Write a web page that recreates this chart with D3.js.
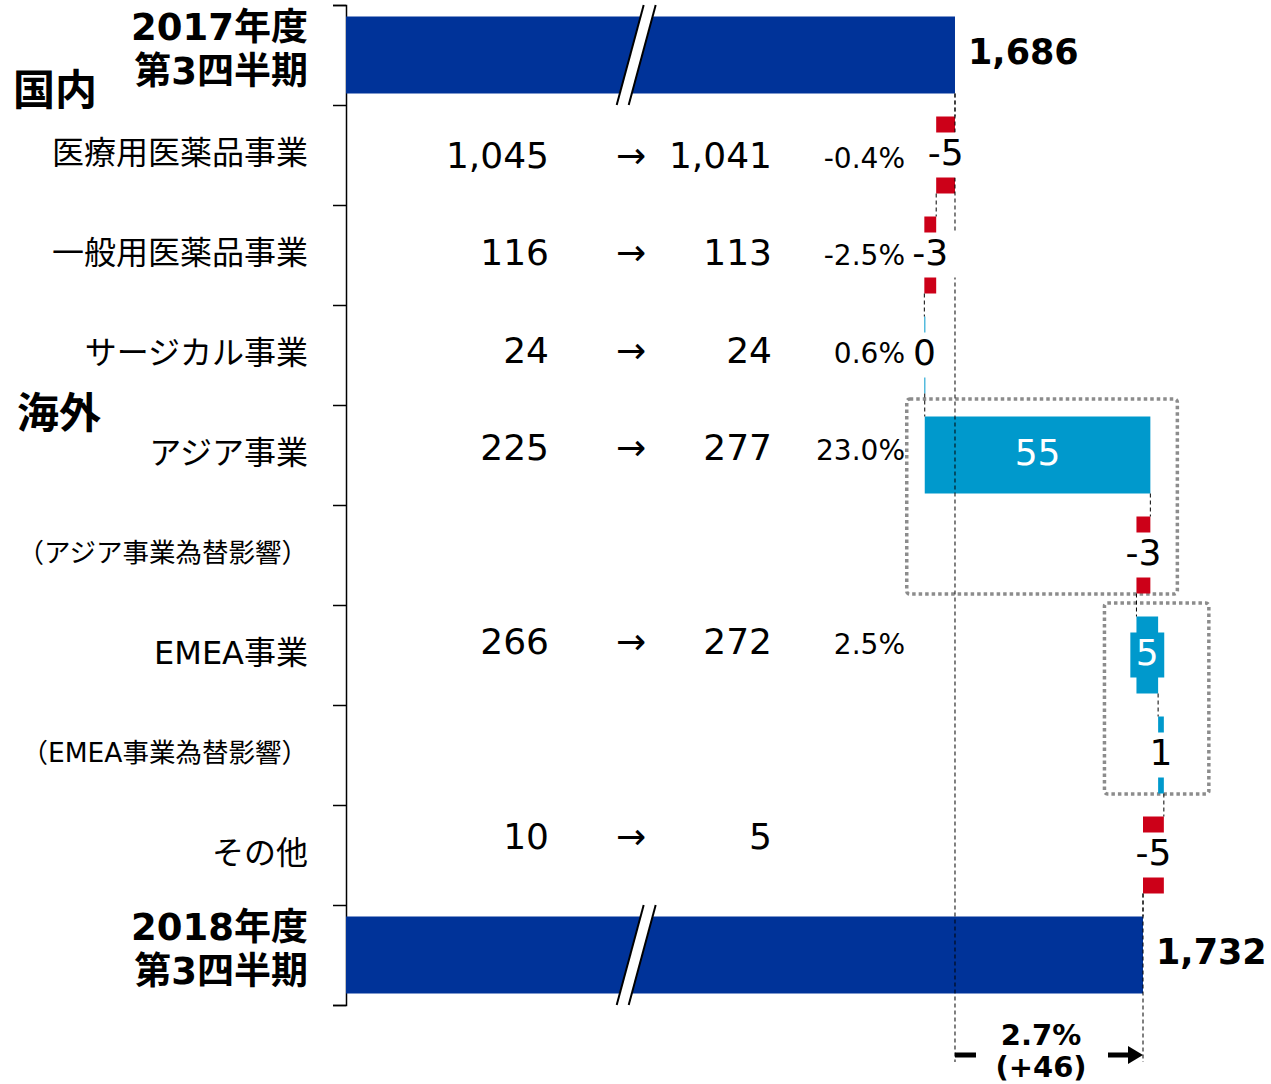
<!DOCTYPE html>
<html>
<head>
<meta charset="utf-8">
<script src="https://cdn.jsdelivr.net/npm/d3@7"></script>
<style>
  body { margin: 0; background: #fff; }
  svg text { font-family: "DejaVu Sans", "Noto Sans CJK JP", sans-serif; fill: #000; }
</style>
</head>
<body>
<div id="chart-area"></div>
<script>
// rows of the waterfall, top to bottom
let categories = ["2017年度\n第3四半期", "医療用医薬品事業", "一般用医薬品事業", "サージカル事業", "アジア事業",
                  "（アジア事業為替影響）", "EMEA事業", "（EMEA事業為替影響）", "その他", "2018年度\n第3四半期"];
let startTotal = 1686;
let endTotal = 1732;
// change per business (100 million yen)
let deltas = [-4.6, -2.9, 0.1, 55.2, -3.4, 5.3, 1.4, -5.1];
// table columns: last year -> this year, growth
let prevYear = [1045, 116, 24, 225, null, 266, null, 10];
let thisYear = [1041, 113, 24, 277, null, 272, null, 5];
let growth = ["-0.4%", "-2.5%", "0.6%", "23.0%", null, "2.5%", null, null];
let groupNames = ["国内", "海外"];
let groupRows = [1, 4];
let fxBoxRows = [[4, 5], [6, 7]];
let xFloor = 1537;   // broken axis, bars start here
let axisBreak = 1608;

let margin = {left: 346, top: 5};
let step = 100;
let colors = {total: "#003399", up: "#0099cc", down: "#cc0018"};

let svg = d3.select("#chart-area")
            .append("svg")
            .attr("width", 1271)
            .attr("height", 1084);

let y = d3.scaleBand()
        .domain(categories)
        .range([margin.top, margin.top + step * categories.length])
        .paddingInner(0.23)
        .paddingOuter(0.115);
let bw = y.bandwidth();

let x = d3.scaleLinear()
        .domain([xFloor, endTotal])
        .range([margin.left, margin.left + 797]);

// table rows sit a little tighter than the bars
let tableY = d3.scaleBand()
        .domain(categories)
        .range([9, 982]);

// build the running totals
let rows = [];
let run = startTotal;
rows.push({cat: categories[0], from: xFloor, to: startTotal, kind: "total", value: startTotal});
deltas.forEach(function(d, i){
    rows.push({cat: categories[i + 1], from: run, to: run + d, kind: d >= 0 ? "up" : "down", delta: d});
    run += d;
});
rows.push({cat: categories[categories.length - 1], from: xFloor, to: endTotal, kind: "total", value: endTotal});

//axis with ticks between the rows
let yEdge = d3.scaleLinear()
        .domain([0, categories.length])
        .range(y.range());
svg.append("g")
    .attr("transform", "translate(" + margin.left + ",0)")
    .call(d3.axisLeft(yEdge).ticks(categories.length).tickSize(13).tickFormat(""))
    .call(g => g.selectAll("path, line").attr("stroke", "#000").attr("stroke-width", 1.5));

// category labels
let labX = margin.left - 38;
svg.selectAll("text.cat")
    .data(categories)
    .enter()
    .append("text")
    .attr("class", "cat")
    .attr("text-anchor", "end")
    .attr("x", labX)
    .attr("y", d => y(d) + bw / 2 - 2)
    .attr("dy", "0.35em")
    .attr("font-size", d => d.indexOf("\n") >= 0 ? 37 : (d[0] === "（" ? 26.5 : 32))
    .attr("font-weight", d => d.indexOf("\n") >= 0 ? "bold" : "normal")
    .each(function(d){
        let lines = d.split("\n");
        if (lines.length === 1) { d3.select(this).text(d); return; }
        let t = d3.select(this).attr("dy", null);
        t.append("tspan").attr("x", labX).attr("dy", "-0.36em").text(lines[0]);
        t.append("tspan").attr("x", labX).attr("dy", "1.19em").text(lines[1]);
    });

// group labels
svg.selectAll("text.group")
    .data(groupNames)
    .enter()
    .append("text")
    .attr("class", "group")
    .attr("x", (d, i) => i === 0 ? 13 : 17)
    .attr("y", (d, i) => y(categories[groupRows[i]]) - 11.5 + (i === 0 ? -15 : 8))
    .attr("dy", "0.35em")
    .attr("font-size", 42)
    .attr("font-weight", "bold")
    .text(d => d);

// table columns
let fmt = d3.format(",");
let tableRows = categories.slice(1, 9).map(function(c, i){
    return {cat: c, prev: prevYear[i], cur: thisYear[i], pct: growth[i]};
});
let tr = svg.selectAll("g.trow")
    .data(tableRows.filter(d => d.prev !== null))
    .enter()
    .append("g")
    .attr("class", "trow")
    .attr("transform", d => "translate(0," + (tableY(d.cat) + tableY.bandwidth() / 2 + 13) + ")");
tr.append("text").attr("x", 549).attr("text-anchor", "end").attr("font-size", 36).text(d => fmt(d.prev));
tr.append("text").attr("x", 631).attr("text-anchor", "middle").attr("font-size", 36).text("→");
tr.append("text").attr("x", 772).attr("text-anchor", "end").attr("font-size", 36).text(d => fmt(d.cur));
tr.append("text").attr("x", 905).attr("text-anchor", "end").attr("font-size", 28).text(d => d.pct || "");

// dotted boxes round the overseas rows
let boxPad = [{l: 18, r: 27, t: 17.5}, {l: 32, r: 45, t: 13.5}];
fxBoxRows.forEach(function(pair, i){
    let rs = pair.map(k => rows[k]);
    let x0 = d3.min(rs, d => x(Math.min(d.from, d.to)));
    let x1 = d3.max(rs, d => x(Math.max(d.from, d.to)));
    let y0 = y(rs[0].cat) - boxPad[i].t;
    let y1 = y(rs[1].cat) + bw + 0.5;
    svg.append("rect")
        .attr("x", x0 - boxPad[i].l)
        .attr("y", y0)
        .attr("width", x1 - x0 + boxPad[i].l + boxPad[i].r)
        .attr("height", y1 - y0)
        .attr("rx", 3)
        .attr("fill", "none")
        .attr("stroke", "#8c8c8c")
        .attr("stroke-width", 3.5)
        .attr("stroke-dasharray", "3.5,3");
});

// bars
svg.selectAll("rect.bar")
    .data(rows)
    .enter()
    .append("rect")
    .attr("class", "bar")
    .attr("x", d => x(Math.min(d.from, d.to)))
    .attr("width", d => Math.max(1, Math.abs(x(d.to) - x(d.from))))
    .attr("y", d => y(d.cat))
    .attr("height", bw)
    .attr("fill", d => colors[d.kind]);

// axis break marks on the total bars
let totals = rows.filter(d => d.kind === "total");
let bx = x(axisBreak);
totals.forEach(function(d){
    let top = y(d.cat) - 11.5, bot = y(d.cat) + bw + 11.5;
    svg.append("path")
        .attr("d", "M" + (bx - 19.5) + "," + bot + "L" + (bx + 7.5) + "," + top +
                   "L" + (bx + 19.5) + "," + top + "L" + (bx - 7.5) + "," + bot + "Z")
        .attr("fill", "#fff");
    [-19.5, -7.5].forEach(function(o){
        svg.append("line")
            .attr("x1", bx + o).attr("y1", bot)
            .attr("x2", bx + o + 27).attr("y2", top)
            .attr("stroke", "#000").attr("stroke-width", 2);
    });
});

// connectors between bars
for (let i = 0; i < rows.length - 1; i++) {
    svg.append("line")
        .attr("x1", x(rows[i].to)).attr("x2", x(rows[i].to))
        .attr("y1", y(rows[i].cat) + bw)
        .attr("y2", y(rows[i + 1].cat))
        .attr("stroke", "#000")
        .attr("stroke-width", 1)
        .attr("stroke-dasharray", "4,3");
}

// reference lines for start and end totals
let annY = y.range()[1] + 50;
[[startTotal, y(categories[0]) + bw], [endTotal, y(categories[8]) + bw]].forEach(function(p){
    svg.append("line")
        .attr("x1", x(p[0])).attr("x2", x(p[0]))
        .attr("y1", p[1]).attr("y2", annY + 7)
        .attr("stroke", "#000")
        .attr("stroke-width", 1)
        .attr("stroke-dasharray", "4,3");
});

// total labels
svg.selectAll("text.total")
    .data(totals)
    .enter()
    .append("text")
    .attr("class", "total")
    .attr("x", d => x(d.to) + 13)
    .attr("y", d => y(d.cat) + bw / 2 - 3)
    .attr("dy", "0.35em")
    .attr("font-size", 35)
    .attr("font-weight", "bold")
    .text(d => fmt(d.value));

// delta labels, with a patch behind them
let steps = rows.filter(d => d.kind !== "total");
let lab = svg.selectAll("g.dlab")
    .data(steps)
    .enter()
    .append("g")
    .attr("class", "dlab")
    .attr("transform", d => "translate(" + ((x(d.from) + x(d.to)) / 2) + "," + (y(d.cat) + bw / 2) + ")");
let bg = lab.append("rect");
lab.append("text")
    .attr("text-anchor", "middle")
    .attr("y", -3)
    .attr("dy", "0.35em")
    .attr("font-size", 36)
    .style("fill", d => d.delta >= 5 ? "#fff" : "#000")
    .text(d => String(Math.round(d.delta)))
    .each(function(d){ d.tw = this.getComputedTextLength(); });
bg.attr("x", d => -d.tw / 2 - (d.delta >= 5 ? 5.5 : 8))
  .attr("width", d => d.tw + (d.delta >= 5 ? 11 : 16))
  .attr("y", -22.5)
  .attr("height", 45)
  .attr("fill", d => d.delta >= 5 ? colors.up : "#fff");

// growth annotation under the chart
let ax0 = x(startTotal), ax1 = x(endTotal);
svg.append("rect").attr("x", ax0).attr("y", annY - 2.5).attr("width", 21).attr("height", 5).attr("fill", "#000");
svg.append("rect").attr("x", ax1 - 35).attr("y", annY - 2.5).attr("width", 22).attr("height", 5).attr("fill", "#000");
svg.append("path")
    .attr("d", "M" + (ax1 - 15) + "," + (annY - 9) + "L" + ax1 + "," + annY + "L" + (ax1 - 15) + "," + (annY + 9) + "Z")
    .attr("fill", "#000");
let change = endTotal - startTotal;
svg.append("text")
    .attr("x", (ax0 + ax1) / 2 - 8)
    .attr("y", annY - 20)
    .attr("dy", "0.35em")
    .attr("text-anchor", "middle")
    .attr("font-size", 29)
    .attr("font-weight", "bold")
    .text(d3.format(".1%")(change / startTotal));
svg.append("text")
    .attr("x", (ax0 + ax1) / 2 - 8)
    .attr("y", annY + 12)
    .attr("dy", "0.35em")
    .attr("text-anchor", "middle")
    .attr("font-size", 29)
    .attr("font-weight", "bold")
    .text("(+" + change + ")");
</script>
</body>
</html>
